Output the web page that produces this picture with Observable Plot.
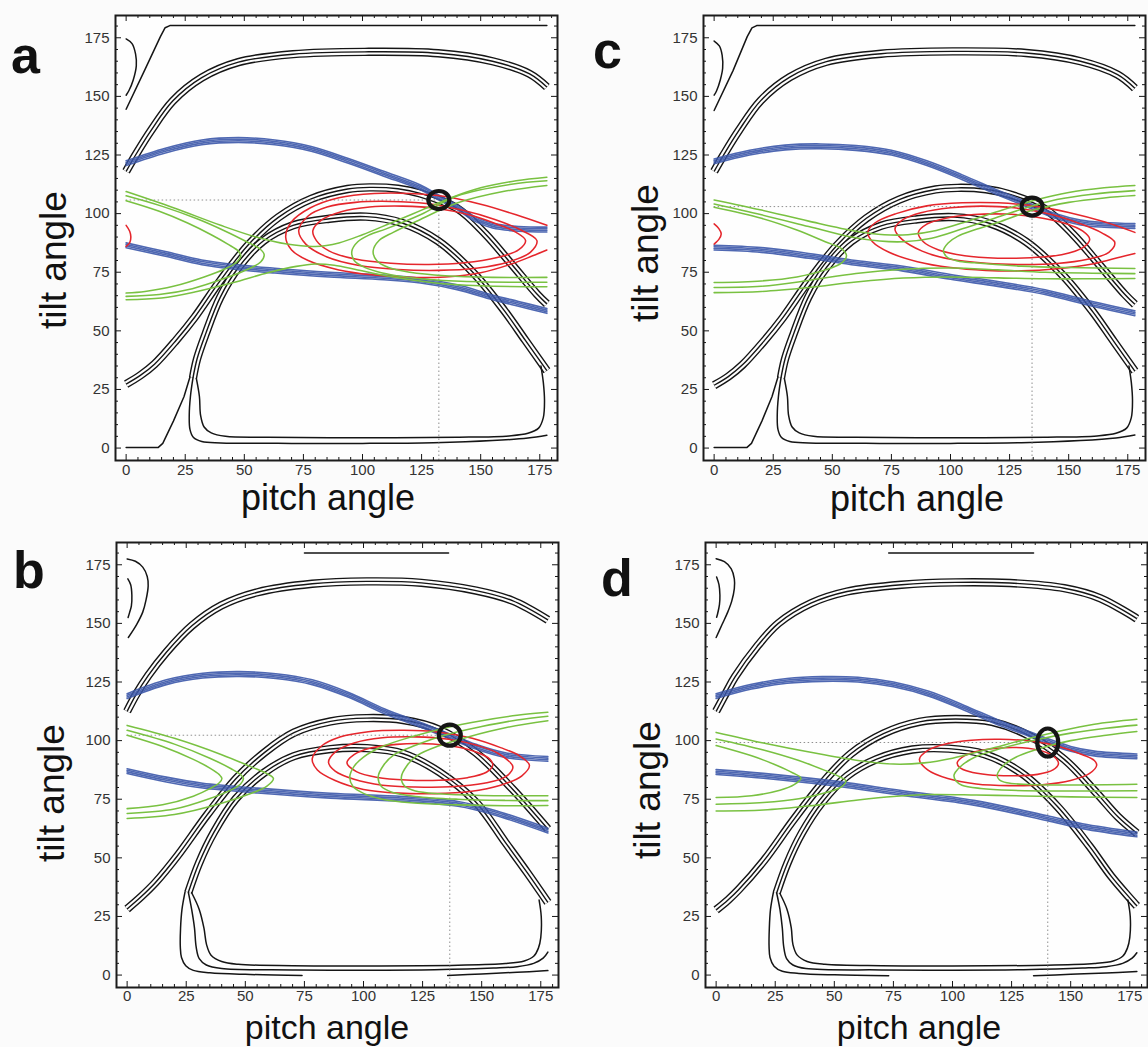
<!DOCTYPE html>
<html><head><meta charset="utf-8">
<script src="https://cdn.jsdelivr.net/npm/d3@7"></script>
<script src="https://cdn.jsdelivr.net/npm/@observablehq/plot@0.6"></script>
<style>
html,body{margin:0;padding:0;background:#fbfbfb;}
#wrap{position:relative;width:1148px;height:1047px;overflow:hidden;}
#wrap > div, #wrap > svg{position:absolute;}
</style></head>
<body><div id="wrap"></div>
<script>
// ---------- axis ticks ----------
const majorTicks = [0,25,50,75,100,125,150,175];
const minorTicks = [5,10,15,20,30,35,40,45,55,60,65,70,80,85,90,95,105,110,115,120,130,135,140,145,155,160,165,170,180];
const xDomain = [-4.5, 182.5];
const yDomain = [-5.3, 184.5];
const xTitle = "pitch angle";
const yTitle = "tilt angle";

// ================= PANEL a =================
const A_hook = [[0,174.5],[2.5,172.5],[4,168],[4.3,163],[3,157],[1.2,152.5],[0,150.5]];
const A_steep = [[0,144.5],[8,161.5],[14.5,175.5],[16.5,179.3],[18.5,180.2],[178,180.2]];
const A_topArc = [[0,118],[4,125],[10.5,135.4],[19.7,148],[32,158],[47.5,164.6],[70.6,168],[101,169],[132,168.4],[155,165],[170.7,159.6],[178,154]];
const A_outerArch = [[0,27.3],[6,31],[12,35.8],[21,45.8],[29,55.8],[39.8,71.4],[52,87],[64.4,98.4],[78.3,106.3],[93.7,110.5],[103,111.2],[115,110.6],[124.5,108.6],[140,102.3],[152,91.3],[163,78.5],[173.8,65.7],[178,61.5]];
const A_innerArch = [[28.3,30],[30,38],[33.6,48.6],[39.8,64.3],[47.5,77],[58,88.3],[70.6,95],[86,97.8],[101.4,98.7],[116.8,96],[132,88.3],[147.6,74],[160,58.6],[169,45.8],[178,33]];
const A_bottomOuter = [[0,0.2],[13.5,0.2],[15.5,2],[20,11.5],[24.5,22],[27,30.3]];
const A_bottomMid = [[28.3,30],[27.2,22],[26.7,14],[27,8],[28.5,4.5],[32,2.8],[40,2.2],[70,2],[100,2],[130,2.3],[155,3.2],[170,4.3],[178,5.5]];
const A_bottomInner = [[29.7,29.7],[31,22],[31.5,14],[33,9],[36,6.5],[42,5],[60,4.6],[100,4.4],[140,4.6],[162,5.2],[170,6.3],[174.5,8.5],[176.5,13],[177,20],[176.5,28],[175.5,35]];
const A_blueUp = [[0,121.5],[16.6,126.9],[32,130.4],[47.5,131.4],[62.9,130.4],[78.3,127.6],[93.7,122.6],[109,117],[124.5,111.2],[132,107],[140,102.7],[147.6,97.7],[155,94.9],[166,93.5],[178,93.2]];
const A_blueLo = [[0,86.5],[16.6,82.8],[32,79.2],[47.5,77.1],[62.9,75.7],[86,74],[109,72.8],[124.5,71.4],[140,68.6],[155,64.3],[166,61.5],[178,58.5]];
const A_redArc = [[0,95],[1.5,92.5],[2,90],[1.5,87.5],[0,86]];
const A_red1 = [[178,95],[165,99.5],[150,104],[135,107.3],[120,108.6],[105,108.6],[90,106.8],[78,102.5],[70,96.5],[67.5,90],[70,84.5],[77,80],[90,76],[105,73.8],[120,72.8],[135,73],[150,74.8],[163,78.5],[172,82],[178,84.5]];
const A_red2 = [[73,92.7],[77,99],[85,102.8],[97,104.8],[112,105.2],[127,104.3],[142,101.5],[156,97.5],[167,93],[173.8,88.5],[171,83.5],[162,79.5],[148,76.7],[132,75.8],[115,76.2],[98,78],[85,81.5],[76,87]];
const A_red3 = [[79,92.7],[83,97.5],[91,100.8],[103,102.8],[117,103.2],[131,102.3],[145,99.5],[157,95.5],[165,92],[169,88.5],[166,84.5],[157,81.3],[143,79],[128,78.3],[112,78.8],[97,80.6],[86,84],[80.5,88.5]];
const A_gUp = [[0,109.4],[20,102.5],[40,95],[55,90],[68,87],[80,86],[90,87.5],[100,91],[112,96],[125,101.5],[138,107],[150,111],[165,114],[178,115.5]];
const A_gLo = [[0,63.3],[15,64],[30,66.8],[45,70.5],[60,74.8],[72,77.5],[80,78.5],[88,78],[98,76],[110,73.5],[130,70.5],[150,69.2],[178,68.8]];
const A_gL58 = [[0,107.6],[15,103.2],[30,97.8],[42,92.5],[51,88],[56.5,85],[58.4,82.5],[57,79.5],[52,76.5],[42,72.5],[28,68],[14,65.5],[0,64.7]];
const A_gL48 = [[0,105.5],[14,101],[26,96],[36,91],[43,87],[47.5,84],[48.5,82],[47,79.5],[42,76.5],[33,73],[20,69],[8,66.8],[0,66.1]];
const A_gR95 = [[178,114],[163,112.5],[140,107.5],[124.5,99.5],[110,93.5],[103,91],[98,88],[95.5,84],[96.5,80],[100,77.5],[106,75.3],[115,73.4],[130,71.8],[150,70.9],[178,70.7]];
const A_gR104 = [[178,112],[160,109.5],[140,104.5],[124.5,97.5],[113,92],[107,88.5],[104.5,84],[106,80],[111,77],[120,75],[135,73.5],[155,72.8],[178,72.8]];
const A_target = [132.3,105.8];

// ================= PANEL c =================
const C_hook = [[0,173.6],[2.2,171.5],[3.4,167.5],[3.6,162],[2.6,157],[1,152.3],[0,150.5]];
const C_steep = [[0,144],[8,161],[14,175.5],[16,179.2],[18,180.2],[178,180.2]];
const C_topArc = [[0,118],[4,125],[10.5,135.5],[19.7,148.2],[32,158.2],[47.5,164.8],[70.6,168.2],[101,169.2],[132,168.5],[155,165],[170.7,159.3],[178,153.5]];
const C_outerArch = [[0,26.8],[6,30.5],[12,35.5],[21,45.5],[29,55.5],[39.8,71],[52,86.5],[64.4,98],[78.3,106],[93.7,110.3],[103,111],[115,110.4],[124.5,108.4],[140,102],[152,91],[163,78.2],[173.8,65.5],[178,61.3]];
const C_innerArch = [[28.3,30],[30,38],[33.6,48.6],[39.8,64.3],[47.5,77],[58,88.2],[70.6,94.8],[86,97.6],[101.4,98.5],[116.8,95.8],[132,88],[147.6,73.6],[160,58.4],[169,45.6],[178,32.8]];
const C_bottomOuter = [[0,0.2],[13.8,0.2],[15.8,2],[20.2,11.5],[24.5,22],[27,30.3]];
const C_bottomMid = [[28.3,30],[27.2,22],[26.7,14],[27,8],[28.5,4.5],[32,2.8],[40,2.2],[70,2],[100,2],[130,2.3],[155,3.2],[170,4.3],[178,5.6]];
const C_bottomInner = [[29.7,29.7],[31,22],[31.5,14],[33,9],[36,6.5],[42,5],[60,4.6],[100,4.4],[140,4.6],[162,5.2],[170,6.3],[174.5,8.5],[176.5,13],[177,20],[176.5,28],[175.5,35]];
const C_blueUp = [[0,122.3],[15,126],[30,128.2],[45,128.7],[60,128],[75,126],[90,121.5],[105,115.5],[120,109],[134.5,103],[145,98.8],[155,96.2],[165,95.2],[178,94.7]];
const C_blueLo = [[0,85.5],[20,84.5],[40,82],[60,79],[80,76.5],[100,73],[120,70],[140,66.5],[160,61.5],[178,57.5]];
const C_redArc = [[0,95.6],[2,93.6],[3,91.3],[2,89],[0,87]];
const C_red1 = [[178,92],[165,96.5],[150,100.5],[135,103.3],[120,104.6],[105,104.6],[90,103.3],[77,100],[68,96],[65,92],[67,88],[74,83.5],[86,79.5],[100,77],[115,75.8],[130,75.6],[145,76.5],[160,78.5],[172,81.5],[178,83]];
const C_red2 = [[76.5,93.4],[80,97.5],[88,100.5],[100,102.5],[113,103.2],[127,102.5],[141,100],[154,96],[164,91.8],[169.5,87.7],[167,83.5],[158,80.5],[145,78.7],[130,78.3],[115,78.8],[100,80.5],[88,84],[79.5,89]];
const C_red3 = [[86.4,92],[90,95.5],[98,98],[110,99.6],[123,99.8],[136,98.6],[148,96],[156,92.5],[158.9,89.1],[156,85.5],[147,82.5],[134,81.2],[120,81],[106,82],[95,84.5],[88.5,88]];
const C_gU1 = [[0,105.8],[20,101.5],[40,96.8],[60,92.5],[72,91],[82,91],[94,92.8],[108,97],[122,101.5],[136,105.8],[150,109],[165,111],[178,112]];
const C_gU2 = [[0,104.1],[20,99.5],[40,94.5],[58,90],[70,88.3],[80,88],[92,89.5],[105,93.5],[118,97.8],[132,102.5],[145,106],[160,108.3],[178,109.8]];
const C_gL1 = [[0,68.5],[20,69],[40,71.5],[60,74.5],[80,76.3],[100,76.8],[120,76],[140,75],[160,74.6],[178,74.4]];
const C_gL2 = [[0,66.3],[20,66.8],[40,68.5],[60,70.8],[80,72.5],[100,73],[120,72.6],[140,72.2],[160,72.2],[178,72.3]];
const C_gLeft = [[0,102.7],[20,98],[35,93],[47,88],[54,85],[56,82],[54,79],[47,76],[35,73],[20,71.3],[0,70.6]];
const C_gRight = [[178,107.7],[165,106.7],[150,104.8],[135,101.5],[120,96.2],[110,93],[103,90.3],[99,87.5],[97,84.2],[98.5,81.5],[103,79.8],[110,79],[130,77.6],[150,77],[178,76.6]];
const C_target = [134.5,103];

// ================= PANEL b =================
const B_hookOuter = [[0,177.5],[3.5,176.5],[6.6,174],[8.5,170],[8.9,166],[8,160],[6.6,154.8],[4,149.5],[0.5,144]];
const B_hookInner = [[0.3,169],[1.5,166.5],[2,162],[1.8,157.5],[1,154.5],[0.4,152.5]];
const B_topSeg = [[75,180],[136,180]];
const B_topArc = [[0,112.5],[4,120],[8.9,127.7],[16.6,137.7],[27.4,149],[39.8,157.6],[55.2,163.3],[78.3,166.9],[101.4,167.9],[124.5,167.3],[147.6,164],[163,159.7],[178,151.5]];
const B_outerArch = [[0,28.2],[6,33.5],[12,39.5],[21.3,50.9],[33.6,68],[45.9,83.6],[58.2,95],[70.6,103.4],[86,108.2],[101.4,109.6],[116.8,108.8],[132.2,104.6],[147.6,94.8],[163,79.4],[178,62.3]];
const B_innerArch = [[25.9,35.3],[30.5,48],[36.7,60.9],[45.9,75.1],[58.2,86.5],[70.6,93.4],[86,96.4],[101.4,96.8],[116.8,94.4],[132.2,86.5],[147.6,73.7],[160,56.6],[169.2,43.8],[178,31]];
const B_bottomOuterL = [[24.5,35.5],[23.2,28],[22.6,20],[22.5,12],[23,7.5],[24.8,4],[28,2],[35,1],[50,0.3],[74,-0.2]];
const B_bottomOuterR = [[135.6,-0.2],[150,0.5],[165,1.2],[178,1.9]];
const B_bottomMid = [[25.9,35.3],[27.3,28],[28.5,20],[29.2,12],[30.5,7],[33.5,4.3],[40,2.8],[70,2.2],[100,2.1],[130,2.3],[155,3],[165,3.6],[172,5],[176,7.2],[178,9.8]];
const B_bottomInner = [[27.3,35.1],[30.5,28],[32.5,20],[33.6,13],[35.5,8.5],[40,5.8],[47,4.6],[70,4],[100,3.9],[140,4.2],[160,4.9],[168,6],[172,8],[174,11.5],[175,16],[175.2,25],[174.3,32]];
const B_blueUp = [[0,119],[16.6,124.9],[32,127.7],[47.5,128.4],[62.9,127.5],[78.3,124.9],[93.7,119.5],[109,112.5],[124.5,106.6],[136.5,101.8],[147.6,97.4],[160,93.8],[178,92.2]];
const B_blueLo = [[0,87],[16.6,83.4],[32,80.8],[55.2,78.7],[86,76.5],[116.8,75.1],[140,73],[155,69.4],[178,61.6]];
const B_red1 = [[78.3,92.2],[82,97.5],[90,101.5],[102,103.8],[117,104.4],[132,103.6],[146,101],[158,97],[166,93.5],[170.2,89.5],[167,85],[158,81],[145,78.3],[130,77.4],[115,77.6],[100,79.2],[88,83],[80.5,87.5]];
const B_red2 = [[85.2,90.8],[88.5,95.5],[96,99],[108,101.2],[122,101.6],[136,100.6],[148,98],[157,94.5],[163.2,88.8],[160,84.5],[151,81.8],[137,80.3],[122,80.2],[108,81],[96,83.5],[88,87]];
const B_red3 = [[93,90.5],[96,94],[103,96.8],[114,98.4],[126,98.7],[138,97.6],[148,95],[153.5,92],[154.7,89.5],[152,86.5],[144,84.2],[132,83.1],[118,83.2],[106,84.3],[97,86.8]];
const B_gL62 = [[0,106.5],[20,101],[40,94],[52,89],[59,86],[61.9,83.8],[59,80.5],[52,77.3],[40,73.3],[20,68.5],[0,66.8]];
const B_gL49 = [[0,104.4],[20,98.5],[35,92.5],[44,88],[48,85.5],[49.2,83.8],[48,81.5],[44,79],[35,75.3],[20,70.8],[0,68.9]];
const B_gL40 = [[0,102.3],[15,97.5],[28,92],[35,88.3],[39,85.5],[40.1,83.8],[39,82],[35,79.5],[28,76.3],[15,72.6],[0,71]];
const B_gR94 = [[178,112.1],[165,110.8],[150,108.5],[135,105.5],[120,101.5],[108,97.5],[100,93],[96,89],[94.2,84.5],[95.5,80.5],[100,77.5],[108,75],[120,73.5],[140,72.6],[160,72.2],[178,72.3]];
const B_gR106 = [[178,110.4],[165,108.8],[150,106],[135,102.5],[122,98],[113,94],[108.5,89.5],[106.2,84.5],[107.5,80.5],[112,78],[122,76.2],[140,75],[160,74.5],[178,74.4]];
const B_gR116 = [[178,108.5],[160,105.5],[145,101.8],[132,97.8],[123,93.8],[118.5,89.5],[116,84.3],[117.5,80.5],[122,78.5],[132,77.3],[150,76.6],[178,76.5]];
const B_target = [136.5,102.3];

// ================= PANEL d =================
const D_hookOuter = [[0,177.6],[3.5,176.3],[6.4,173.3],[7.7,169],[7.7,164.8],[6.6,159.5],[4.9,154.8],[2.5,149.5],[0,144]];
const D_hookInner = [[0.2,169.8],[1.2,166.5],[1.6,162],[1.4,158],[0.6,154],[0.2,152.6]];
const D_topSeg = [[73,180],[134.3,180]];
const D_topArc = [[0,112.5],[4,120],[8,127.2],[17.2,140],[26.3,150],[40.1,158.6],[55.4,163.6],[78.4,166.5],[101.4,167.5],[124.3,167.2],[147.3,165],[162.6,160.7],[178,152]];
const D_outerArch = [[0,27.8],[5,32],[9.5,36.4],[20.2,48.8],[32.5,65.9],[44.7,81.6],[57,94.4],[70.8,103],[86,108],[101.4,109.2],[116.7,108],[132,102.3],[147.3,92],[161,77.6],[170,67.5],[178,60.5]];
const D_innerArch = [[25.6,35],[30.2,47.8],[36.3,60.6],[44.7,73.5],[55.4,84.9],[67.7,92],[83,96.2],[98.3,96.6],[113.6,94.2],[129,86.3],[144.3,72],[158,54.9],[167.2,42.1],[178,29.5]];
const D_bottomOuterL = [[24.2,35.2],[23,28],[22.5,20],[22.4,12],[22.8,7.5],[24.5,3.8],[28,1.6],[35,0.7],[50,0.1],[73,-0.3]];
const D_bottomOuterR = [[134.3,-0.3],[150,0.3],[165,0.9],[178,1.5]];
const D_bottomMid = [[25.6,35],[27,28],[28,20],[28.6,12],[29.8,7],[32.5,4.3],[38,2.8],[70,2.2],[100,2.1],[130,2.3],[155,3],[165,3.6],[172,5],[176,7.2],[178,9.5]];
const D_bottomInner = [[27,34.8],[30,28],[31.8,20],[32.5,13],[34.3,8.5],[38.5,5.8],[46,4.6],[70,4],[100,3.9],[140,4.2],[160,4.9],[168,6],[172,8],[174,11.5],[175,16],[175.2,25],[174.2,32]];
const D_blueUp = [[0,119],[15,123],[30,125.5],[45,126.3],[60,126],[75,124],[90,120],[105,114],[120,107.5],[130,103.8],[140.3,99.8],[150,96.5],[160,94.5],[178,93.3]];
const D_blueLo = [[0,86.6],[20,85],[47.8,82],[78.4,77.7],[109,73.5],[139.7,67],[155,63.5],[178,60]];
const D_red1 = [[86,92],[89.5,95.8],[97,98.6],[108,100.2],[120,100.6],[133,99.8],[145,97.5],[155,94],[160,91.5],[161,89.5],[158,86],[150,83],[138,81.2],[124,80.8],[110,81.5],[98,83.8],[89.5,87.5]];
const D_red2 = [[102,90.6],[105,93.5],[112,95.8],[122,97],[132,96.7],[140,94.8],[144,92.2],[144.8,90],[142.5,87.5],[136,85.6],[126,85],[115,85.4],[107,86.8],[103,88.6]];
const D_gUp = [[0,103.5],[20,99],[40,95],[60,91.5],[75,90],[88,90.5],[100,92.5],[115,96.3],[130,100.3],[145,104],[160,107],[178,109.1]];
const D_gLo = [[0,70],[20,70.4],[40,72.2],[60,74.7],[75,76.2],[90,77],[110,76.8],[130,76.4],[150,76],[178,75.7]];
const D_gL55 = [[0,100.7],[20,96],[35,91.5],[46,87.3],[52.5,84.5],[54.9,82.8],[53,80.3],[47,78],[35,75.2],[20,73.6],[0,72.9]];
const D_gL36 = [[0,97.9],[15,93.5],[26,89.3],[32.5,86.2],[35.9,84],[33,81.2],[27,78.8],[15,76.5],[0,75.7]];
const D_gR101 = [[178,106.6],[165,105.3],[150,103.2],[135,100.3],[120,96.5],[110,93.2],[104,89.5],[101.2,86.5],[100.6,85],[101.5,82.8],[104,81],[112,79.6],[125,78.8],[150,78.5],[178,78.6]];
const D_gR119 = [[178,103.9],[165,102.3],[150,100],[138,97],[128,93.5],[122,89.8],[119.3,86.5],[118.9,85],[119.8,83.3],[123,82],[132,81.3],[150,81.1],[178,81.4]];
const D_target = [140.3,99.2];

// ---------- styling ----------
const BLACK = "#151515", BLUE = "#3c58aa", GREEN = "#79c141", RED = "#e5262c", BG = "#fefefe";
const X = d => d[0], Y = d => d[1];
const FW = 442, FH = 445;

function ellipseSymbol(rx, ry) {
  const k = 0.5523;
  return {draw(c) {
    c.moveTo(rx, 0);
    c.bezierCurveTo(rx, k*ry, k*rx, ry, 0, ry);
    c.bezierCurveTo(-k*rx, ry, -rx, k*ry, -rx, 0);
    c.bezierCurveTo(-rx, -k*ry, -k*rx, -ry, 0, -ry);
    c.bezierCurveTo(k*rx, -ry, rx, -k*ry, rx, 0);
    c.closePath();
  }};
}

function triple(data) {
  return [
    Plot.line(data, {x: X, y: Y, curve: "catmull-rom", stroke: BLACK, strokeWidth: 8.4, strokeLinecap: "butt"}),
    Plot.line(data, {x: X, y: Y, curve: "catmull-rom", stroke: BG, strokeWidth: 5.6, strokeLinecap: "butt"}),
    Plot.line(data, {x: X, y: Y, curve: "catmull-rom", stroke: BLACK, strokeWidth: 1.4, strokeLinecap: "butt"})
  ];
}
function single(data, curve = "catmull-rom") {
  return Plot.line(data, {x: X, y: Y, curve, stroke: BLACK, strokeWidth: 1.5});
}
// blue bundle: several thin, tightly packed contour lines
const bundleOffsets = [-2.4, -0.8, 0.8, 2.4];
function band(data) {
  return bundleOffsets.map(o =>
    Plot.line(data, {x: X, y: Y, dy: o, curve: "catmull-rom", stroke: BLUE, strokeWidth: 1.6, strokeOpacity: 0.9}));
}
function colored(data, color, closed = false) {
  return Plot.line(data, {x: X, y: Y, curve: closed ? "catmull-rom-closed" : "catmull-rom", stroke: color, strokeWidth: 1.55});
}

function makePanel(p) {
  const marks = [Plot.frame({fill: BG, stroke: null})];
  for (const t of p.triples) marks.push(...triple(t));
  for (const s of p.singles) marks.push(single(s));
  for (const s of p.straight) marks.push(single(s, "linear"));
  // crosshair
  marks.push(Plot.ruleY([p.target], {y: Y, x1: 0, x2: X, stroke: "#8f8f8f", strokeWidth: 1, strokeDasharray: "1.5,2.5"}));
  marks.push(Plot.ruleX([p.target], {x: X, y1: yDomain[0], y2: Y, stroke: "#8f8f8f", strokeWidth: 1, strokeDasharray: "1.5,2.5"}));
  for (const b of p.blue) marks.push(...band(b));
  for (const r of p.redOpen) marks.push(colored(r, RED));
  for (const r of p.redClosed) marks.push(colored(r, RED, true));
  for (const g of p.green) marks.push(colored(g, GREEN));
  marks.push(Plot.dot([p.target], {x: X, y: Y, symbol: ellipseSymbol(p.rx, p.ry), fill: "none", stroke: BLACK, strokeWidth: 4.2}));
  // inward frame ticks
  marks.push(
    Plot.tickX(majorTicks, {x: d => d, insetTop: FH - 6, stroke: BLACK}),
    Plot.tickX(majorTicks, {x: d => d, insetBottom: FH - 6, stroke: BLACK}),
    Plot.tickX(minorTicks, {x: d => d, insetTop: FH - 3, stroke: BLACK}),
    Plot.tickX(minorTicks, {x: d => d, insetBottom: FH - 3, stroke: BLACK}),
    Plot.tickY(majorTicks, {y: d => d, insetRight: FW - 6, stroke: BLACK}),
    Plot.tickY(majorTicks, {y: d => d, insetLeft: FW - 6, stroke: BLACK}),
    Plot.tickY(minorTicks, {y: d => d, insetRight: FW - 3, stroke: BLACK}),
    Plot.tickY(minorTicks, {y: d => d, insetLeft: FW - 3, stroke: BLACK}),
    Plot.axisX(majorTicks, {anchor: "bottom", tickSize: 0, tickPadding: p.pad, fontSize: 15, color: "#333", label: null}),
    Plot.axisY(majorTicks, {anchor: "left", tickSize: 0, tickPadding: 6, fontSize: 15, color: "#333", label: null}),
    Plot.frame({stroke: "#1c1c1c", strokeWidth: 2})
  );
  const svg = Plot.plot({
    width: 115 + FW + p.mr, height: 15 + FH + 30,
    marginLeft: 115, marginRight: p.mr, marginTop: 15, marginBottom: 30,
    x: {domain: xDomain}, y: {domain: yDomain},
    style: {background: "transparent", fontFamily: "'Liberation Sans', Arial, sans-serif", overflow: "visible"},
    marks
  });
  svg.style.position = "absolute";
  svg.style.left = p.left + "px";
  svg.style.top = p.top + "px";
  return svg;
}

const panels = [
  {left: 0, top: 0, mr: 17, pad: 4, rx: 10.5, ry: 9, target: A_target,
   triples: [A_topArc, A_outerArch, A_innerArch],
   singles: [A_hook, A_bottomMid, A_bottomInner], straight: [A_steep, A_bottomOuter],
   blue: [A_blueUp, A_blueLo], redOpen: [A_redArc, A_red1], redClosed: [A_red2, A_red3],
   green: [A_gUp, A_gLo, A_gL58, A_gL48, A_gR95, A_gR104]},
  {left: 588, top: 0, mr: 3, pad: 4, rx: 10.5, ry: 9, target: C_target,
   triples: [C_topArc, C_outerArch, C_innerArch],
   singles: [C_hook, C_bottomMid, C_bottomInner], straight: [C_steep, C_bottomOuter],
   blue: [C_blueUp, C_blueLo], redOpen: [C_redArc, C_red1], redClosed: [C_red2, C_red3],
   green: [C_gU1, C_gU2, C_gL1, C_gL2, C_gLeft, C_gRight]},
  {left: 1, top: 527, mr: 16, pad: 3, rx: 11, ry: 10.5, target: B_target,
   triples: [B_topArc, B_outerArch, B_innerArch],
   singles: [B_hookOuter, B_hookInner, B_bottomOuterL, B_bottomOuterR, B_bottomMid, B_bottomInner], straight: [B_topSeg],
   blue: [B_blueUp, B_blueLo], redOpen: [], redClosed: [B_red1, B_red2, B_red3],
   green: [B_gL62, B_gL49, B_gL40, B_gR94, B_gR106, B_gR116]},
  {left: 590, top: 527, mr: 1, pad: 3, rx: 10.5, ry: 14, target: D_target,
   triples: [D_topArc, D_outerArch, D_innerArch],
   singles: [D_hookOuter, D_hookInner, D_bottomOuterL, D_bottomOuterR, D_bottomMid, D_bottomInner], straight: [D_topSeg],
   blue: [D_blueUp, D_blueLo], redOpen: [], redClosed: [D_red1, D_red2],
   green: [D_gUp, D_gLo, D_gL55, D_gL36, D_gR101, D_gR119]}
];

const wrap = document.getElementById("wrap");
for (const p of panels) wrap.appendChild(makePanel(p));

// ---------- titles / panel letters ----------
const letters = [["a", 11, 73], ["c", 593, 68], ["b", 13, 588], ["d", 601, 596]];
const yTitles = [[66, 260, 37], [658, 253, 37], [64, 793, 37], [660, 790, 37]];
const xTitles = [[328, 510, 36], [917, 511, 36], [327, 1039, 34], [919, 1039, 34]];
const over = d3.create("svg").attr("width", 1148).attr("height", 1047)
  .style("position", "absolute").style("left", "0px").style("top", "0px")
  .style("pointer-events", "none")
  .style("font-family", "'Liberation Sans', Arial, sans-serif");
over.selectAll("text.l").data(letters).join("text").attr("class", "l")
  .attr("x", d => d[1]).attr("y", d => d[2]).attr("font-size", 52).attr("font-weight", "bold")
  .attr("fill", "#111").text(d => d[0]);
over.selectAll("text.yt").data(yTitles).join("text").attr("class", "yt")
  .attr("transform", d => `translate(${d[0]},${d[1]}) rotate(-90)`)
  .attr("text-anchor", "middle").attr("font-size", d => d[2]).attr("fill", "#111").text(yTitle);
over.selectAll("text.xt").data(xTitles).join("text").attr("class", "xt")
  .attr("x", d => d[0]).attr("y", d => d[1])
  .attr("text-anchor", "middle").attr("font-size", d => d[2]).attr("fill", "#111").text(xTitle);
wrap.appendChild(over.node());
</script>
</body></html>
